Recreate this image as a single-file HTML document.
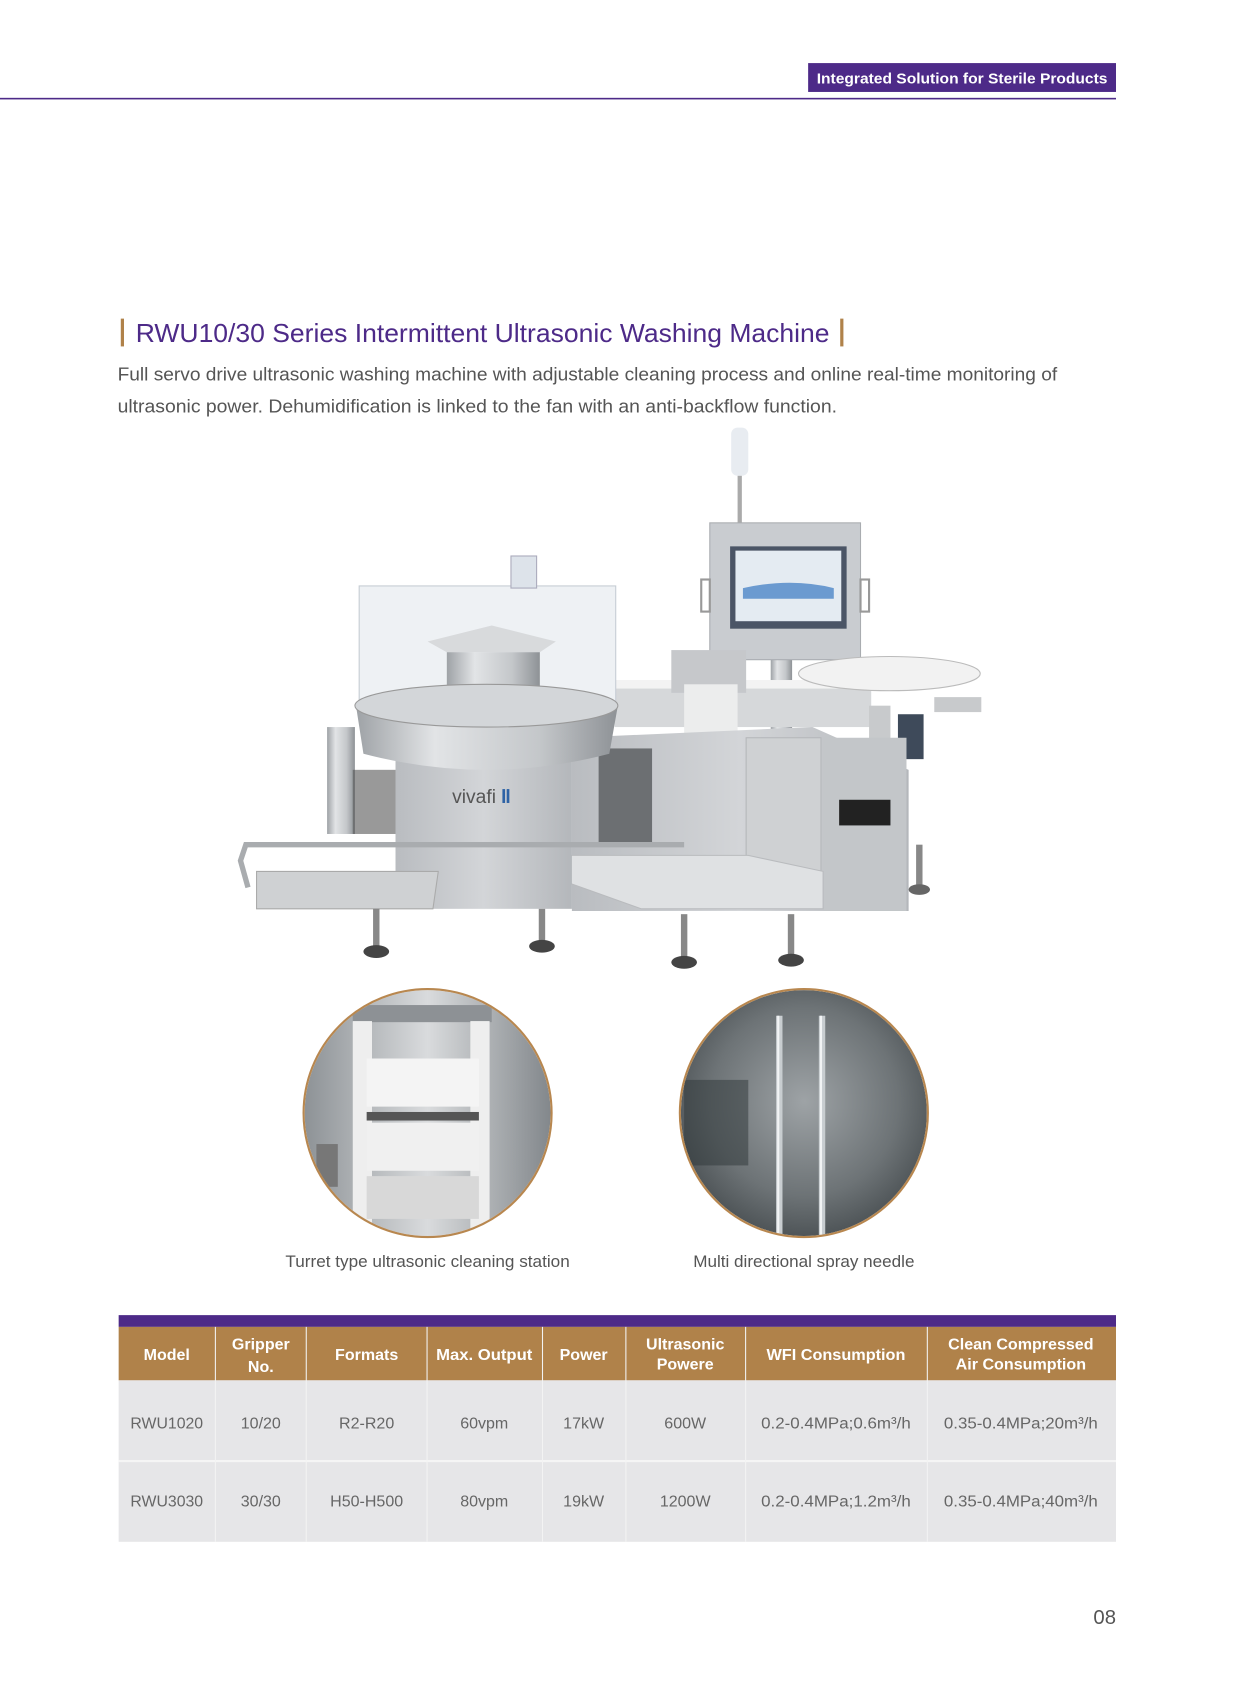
<!DOCTYPE html>
<html><head><meta charset="utf-8"><style>
html,body{margin:0;padding:0;background:#fff;}
svg{display:block;}
</style></head><body>
<svg width="1240" height="1684" viewBox="0 0 1160 1575" preserveAspectRatio="none" xmlns="http://www.w3.org/2000/svg" font-family="'Liberation Sans', sans-serif">
<defs>
<linearGradient id="steel" x1="0" x2="1"><stop offset="0" stop-color="#9ea2a6"/><stop offset=".3" stop-color="#e2e4e6"/><stop offset=".7" stop-color="#c4c7ca"/><stop offset="1" stop-color="#8e9296"/></linearGradient>
<linearGradient id="cab" x1="0" x2="1"><stop offset="0" stop-color="#b9bcc0"/><stop offset=".5" stop-color="#d3d5d8"/><stop offset="1" stop-color="#b4b7bb"/></linearGradient>
<radialGradient id="c2" cx=".5" cy=".45" r=".6"><stop offset="0" stop-color="#9ea3a6"/><stop offset=".6" stop-color="#6d7376"/><stop offset="1" stop-color="#3e4447"/></radialGradient>
<linearGradient id="c1" x1="0" x2="1"><stop offset="0" stop-color="#8a8f93"/><stop offset=".5" stop-color="#d9dbdd"/><stop offset="1" stop-color="#7f8488"/></linearGradient>
<clipPath id="k1"><circle cx="400" cy="1041" r="115"/></clipPath>
<clipPath id="k2"><circle cx="752" cy="1041" r="115"/></clipPath>
</defs>
<!-- header -->
<rect x="756" y="59" width="288" height="27" fill="#4d2a88"/>
<text x="900" y="78" font-size="13.5" font-weight="bold" fill="#fff" text-anchor="middle" textLength="272" lengthAdjust="spacingAndGlyphs">Integrated Solution for Sterile Products</text>
<rect x="0" y="91.5" width="1044" height="1.5" fill="#4d2a88"/>
<!-- title -->
<rect x="113" y="298" width="3" height="26" fill="#b0824a"/>
<text x="127" y="320" font-size="24" fill="#4d2a88" textLength="649" lengthAdjust="spacingAndGlyphs">RWU10/30 Series Intermittent Ultrasonic Washing Machine</text>
<rect x="786" y="298" width="3" height="26" fill="#b0824a"/>
<text x="110" y="356" font-size="17.5" fill="#555" textLength="879" lengthAdjust="spacingAndGlyphs">Full servo drive ultrasonic washing machine with adjustable cleaning process and online real-time monitoring of</text>
<text x="110" y="386" font-size="17.5" fill="#555" textLength="673" lengthAdjust="spacingAndGlyphs">ultrasonic power. Dehumidification is linked to the fan with an anti-backflow function.</text>
<!-- machine -->
<g>
<rect x="684" y="400" width="16" height="45" rx="6" fill="#e8ecf1"/>
<rect x="690" y="445" width="4" height="45" fill="#aaa"/>
<rect x="721" y="615" width="20" height="100" fill="url(#steel)"/>
<rect x="664" y="489" width="141" height="128" fill="#c9ccd0" stroke="#a9acb0"/>
<rect x="683" y="511" width="109" height="77" fill="#4b5566"/>
<rect x="688" y="515" width="99" height="66" fill="#e4ebf2"/>
<path d="M695 550 Q740 540 780 550 L780 560 L695 560Z" fill="#6b9ad0"/>
<rect x="656" y="542" width="8" height="30" fill="none" stroke="#999" stroke-width="2"/>
<rect x="805" y="542" width="8" height="30" fill="none" stroke="#999" stroke-width="2"/>
<!-- conveyor & turntable -->
<rect x="575" y="640" width="240" height="40" fill="#d6d8da"/>
<rect x="575" y="636" width="240" height="8" fill="#f3f3f3"/>
<ellipse cx="832" cy="630" rx="85" ry="16" fill="#f2f2f2" stroke="#bbb"/>
<rect x="874" y="652" width="44" height="14" fill="#c8cacc"/>
<rect x="840" y="668" width="24" height="42" fill="#3e4a5a"/>
<rect x="813" y="660" width="20" height="60" fill="#c8cacc"/>
<rect x="628" y="608" width="70" height="40" fill="#c6c8cb"/>
<rect x="640" y="640" width="50" height="70" fill="#eceded"/>
<!-- right cabinet -->
<polygon points="535,690 760,680 850,720 850,852 535,852" fill="url(#cab)"/>
<rect x="770" y="690" width="78" height="162" fill="#c3c6c9"/>
<rect x="785" y="748" width="48" height="24" fill="#222"/>
<rect x="698" y="690" width="70" height="150" fill="#cfd1d3" stroke="#b5b7ba"/>
<polygon points="530,800 700,800 770,815 770,850 600,850 530,825" fill="#dfe1e3" stroke="#b9bbbe"/>
<!-- left cabinet -->
<rect x="370" y="700" width="165" height="150" fill="url(#cab)"/>
<rect x="560" y="700" width="50" height="90" fill="#6c6f72"/>
<text x="423" y="751" font-size="18" fill="#555">vivafi</text>
<rect x="470" y="738" width="2.5" height="13" fill="#2d62a5"/><rect x="474" y="738" width="2.5" height="13" fill="#2d62a5"/>
<!-- dome -->
<rect x="336" y="548" width="240" height="115" fill="#eef1f4" stroke="#c5ccd3"/>
<rect x="478" y="520" width="24" height="30" fill="#dde3ea" stroke="#aab"/>
<polygon points="418,610 505,610 520,600 460,585 400,600" fill="#d8dadc"/>
<rect x="418" y="610" width="87" height="55" fill="url(#steel)"/>
<path d="M333 660 L578 660 L570 705 Q455 735 340 705Z" fill="url(#steel)"/>
<ellipse cx="455" cy="660" rx="123" ry="20" fill="#d3d6d9" stroke="#999"/>
<!-- filter and left stuff -->
<rect x="306" y="680" width="26" height="100" fill="url(#steel)"/>
<rect x="330" y="720" width="40" height="60" fill="#555" opacity=".6"/>
<polygon points="240,815 410,815 405,850 240,850" fill="#cfd1d3" stroke="#aaa"/>
<polyline points="640,790 230,790 225,805 232,830" fill="none" stroke="#a9acaf" stroke-width="5"/>
<!-- legs -->
<g fill="#888">
<rect x="349" y="850" width="6" height="35"/><ellipse cx="352" cy="890" rx="12" ry="6" fill="#444"/>
<rect x="504" y="850" width="6" height="30"/><ellipse cx="507" cy="885" rx="12" ry="6" fill="#444"/>
<rect x="637" y="855" width="6" height="40"/><ellipse cx="640" cy="900" rx="12" ry="6" fill="#444"/>
<rect x="737" y="855" width="6" height="40"/><ellipse cx="740" cy="898" rx="12" ry="6" fill="#444"/>
<rect x="857" y="790" width="6" height="40"/><ellipse cx="860" cy="832" rx="10" ry="5" fill="#666"/>
</g>
</g>
<!-- circle 1 -->
<g clip-path="url(#k1)">
<rect x="280" y="920" width="240" height="240" fill="url(#c1)"/>
<rect x="330" y="940" width="130" height="16" fill="#8d9195"/>
<rect x="330" y="955" width="18" height="200" fill="#eeeeee"/>
<rect x="440" y="955" width="18" height="200" fill="#eeeeee"/>
<rect x="343" y="990" width="105" height="45" fill="#f4f4f4"/>
<rect x="343" y="1040" width="105" height="8" fill="#555"/>
<rect x="343" y="1050" width="105" height="45" fill="#f0f0f0"/>
<rect x="343" y="1100" width="105" height="40" fill="#d8d8d8"/>
<rect x="296" y="1070" width="20" height="40" fill="#777"/>
</g>
<circle cx="400" cy="1041" r="116" fill="none" stroke="#b8874f" stroke-width="2"/>
<!-- circle 2 -->
<g clip-path="url(#k2)">
<rect x="630" y="920" width="245" height="245" fill="url(#c2)"/>
<rect x="640" y="1010" width="60" height="80" fill="#2e3538" opacity=".5"/>
<rect x="726" y="950" width="6" height="210" fill="#c8cdd0"/>
<rect x="766" y="950" width="6" height="210" fill="#c8cdd0"/>
<rect x="727" y="950" width="2" height="210" fill="#f2f4f5"/>
<rect x="767" y="950" width="2" height="210" fill="#f2f4f5"/>
</g>
<circle cx="752" cy="1041" r="116" fill="none" stroke="#b8874f" stroke-width="2"/>
<text x="400" y="1185" font-size="15.5" fill="#555" text-anchor="middle" textLength="266" lengthAdjust="spacingAndGlyphs">Turret type ultrasonic cleaning station</text>
<text x="752" y="1185" font-size="15.5" fill="#555" text-anchor="middle" textLength="207" lengthAdjust="spacingAndGlyphs">Multi directional spray needle</text>
<!-- table -->
<rect x="111" y="1230" width="933" height="11" fill="#4d2a88"/>
<rect x="111" y="1241" width="933" height="50" fill="#b0824a"/>
<rect x="111" y="1291" width="933" height="151" fill="#e6e6e8"/>
<rect x="111" y="1365.5" width="933" height="2" fill="#f5f5f5"/>
<g stroke="#f3f3f3" stroke-width="1">
<line x1="201.5" y1="1241" x2="201.5" y2="1442"/><line x1="286.5" y1="1241" x2="286.5" y2="1442"/>
<line x1="399.5" y1="1241" x2="399.5" y2="1442"/><line x1="507.5" y1="1241" x2="507.5" y2="1442"/>
<line x1="585.5" y1="1241" x2="585.5" y2="1442"/><line x1="697.5" y1="1241" x2="697.5" y2="1442"/>
<line x1="867.5" y1="1241" x2="867.5" y2="1442"/>
</g>
<g font-size="15" font-weight="bold" fill="#fff" text-anchor="middle">
<text x="156" y="1272">Model</text>
<text x="244" y="1262">Gripper</text><text x="244" y="1283">No.</text>
<text x="343" y="1272">Formats</text>
<text x="453" y="1272" textLength="90" lengthAdjust="spacingAndGlyphs">Max. Output</text>
<text x="546" y="1272">Power</text>
<text x="641" y="1262">Ultrasonic</text><text x="641" y="1281">Powere</text>
<text x="782" y="1272" textLength="130" lengthAdjust="spacingAndGlyphs">WFI Consumption</text>
<text x="955" y="1262" textLength="136" lengthAdjust="spacingAndGlyphs">Clean Compressed</text><text x="955" y="1281" textLength="122" lengthAdjust="spacingAndGlyphs">Air Consumption</text>
</g>
<g font-size="15" fill="#666" text-anchor="middle">
<text x="156" y="1336" textLength="68" lengthAdjust="spacingAndGlyphs">RWU1020</text>
<text x="244" y="1336">10/20</text><text x="343" y="1336">R2-R20</text><text x="453" y="1336">60vpm</text>
<text x="546" y="1336">17kW</text><text x="641" y="1336">600W</text>
<text x="782" y="1336" textLength="140" lengthAdjust="spacingAndGlyphs">0.2-0.4MPa;0.6m³/h</text>
<text x="955" y="1336" textLength="144" lengthAdjust="spacingAndGlyphs">0.35-0.4MPa;20m³/h</text>
<text x="156" y="1409" textLength="68" lengthAdjust="spacingAndGlyphs">RWU3030</text>
<text x="244" y="1409">30/30</text><text x="343" y="1409">H50-H500</text><text x="453" y="1409">80vpm</text>
<text x="546" y="1409">19kW</text><text x="641" y="1409">1200W</text>
<text x="782" y="1409" textLength="140" lengthAdjust="spacingAndGlyphs">0.2-0.4MPa;1.2m³/h</text>
<text x="955" y="1409" textLength="144" lengthAdjust="spacingAndGlyphs">0.35-0.4MPa;40m³/h</text>
</g>
<text x="1044" y="1519" font-size="19" fill="#555" text-anchor="end">08</text>
</svg>
</body></html>
